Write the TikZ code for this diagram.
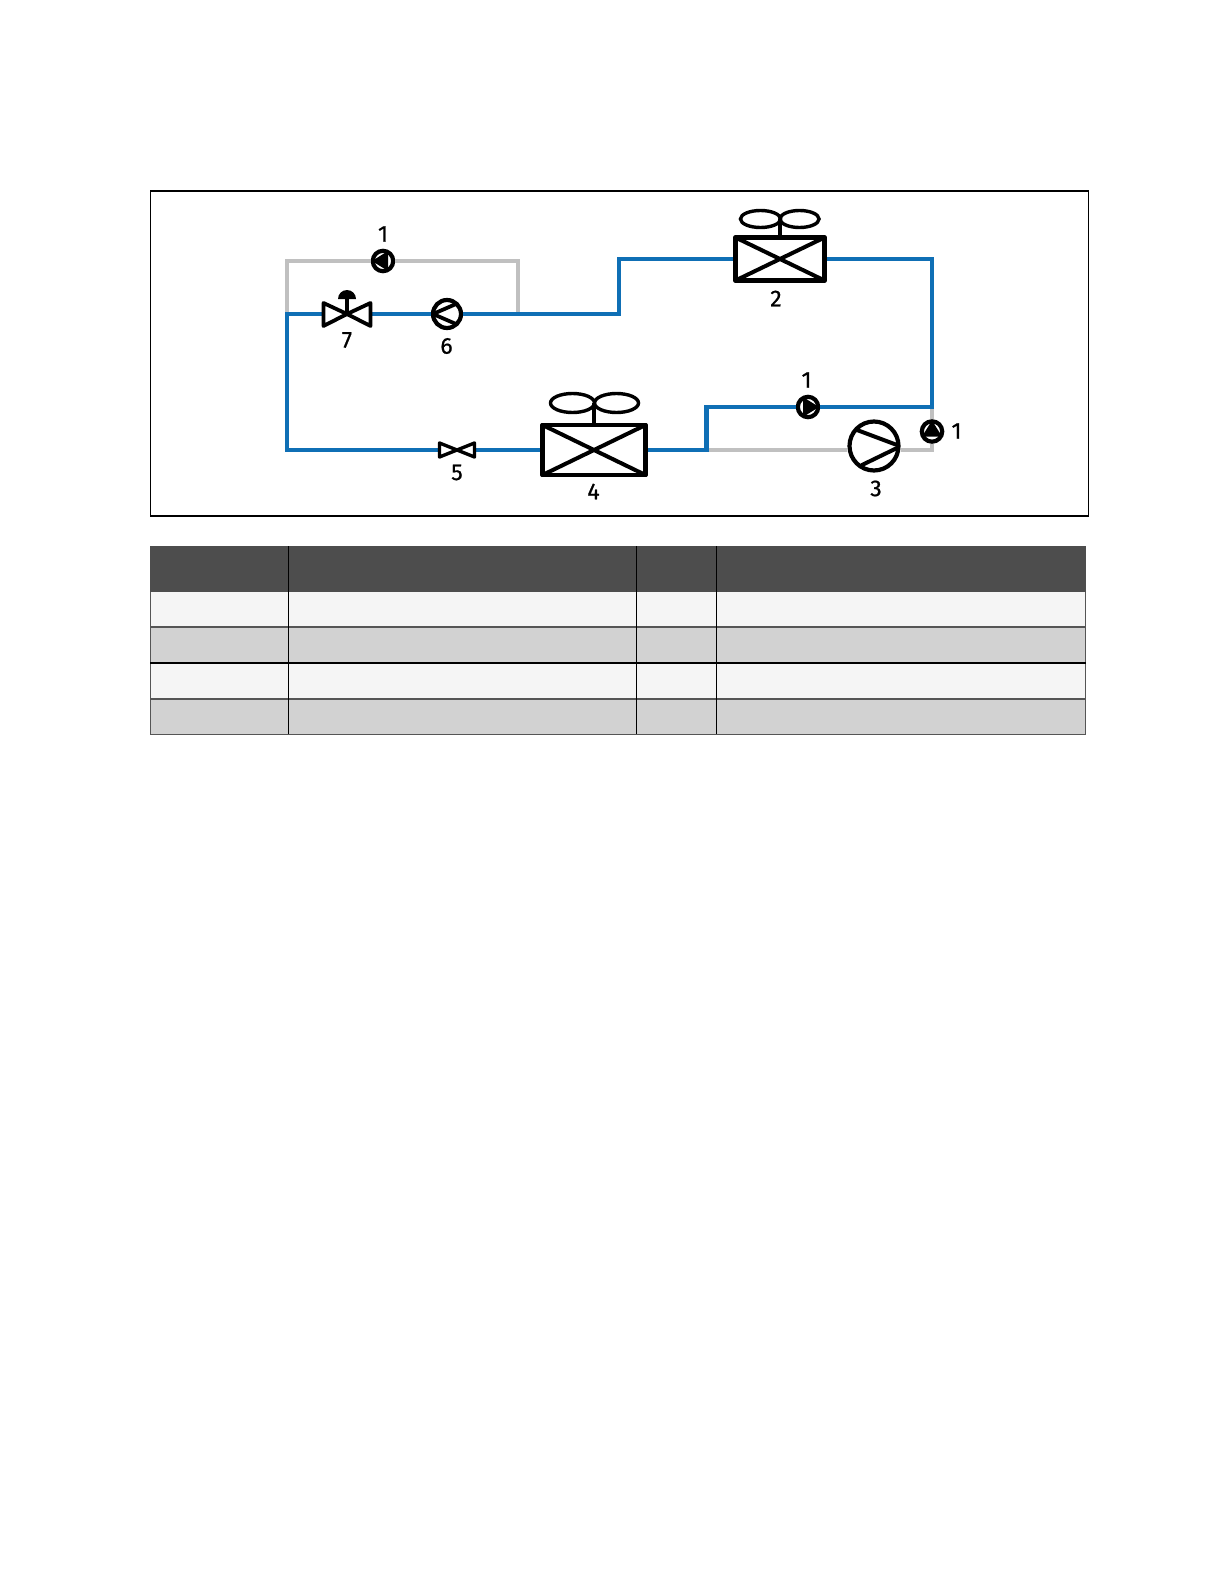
\documentclass[tikz,border=0pt]{standalone}
\usepackage{fontspec}
\newfontfamily\lblfont[RawFeature={embolden=0.7}]{Fira Sans}
\setmainfont{Fira Sans}
\usetikzlibrary{shapes.geometric}
\definecolor{pipeblue}{HTML}{0F6FB5}
\definecolor{pipegray}{HTML}{C0C0C0}
\definecolor{headgray}{HTML}{4D4D4D}
\definecolor{rowlight}{HTML}{F5F5F5}
\definecolor{rowdark}{HTML}{D2D2D2}
\definecolor{ruleg}{HTML}{555555}
\tikzset{
  bluepipe/.style={draw=pipeblue,line width=2.1pt,line join=miter},
  graypipe/.style={draw=pipegray,line width=2.1pt,line join=miter},
  coilbox/.style={draw=black,fill=white,line width=2.4pt,rectangle,inner sep=0pt,outer sep=1.2pt,line join=round},
  coilline/.style={draw=black,line width=2pt,line cap=round},
  fanleaf/.style={draw=black,line width=1.7pt},
  pumpring/.style={circle,draw=black,fill=white,line width=2.1pt,minimum size=10.2pt,inner sep=0pt,outer sep=1.05pt},
  compring/.style={circle,draw=black,fill=white,line width=2.1pt,inner sep=0pt,outer sep=1.05pt},
  slot/.style={rectangle,inner sep=0pt,outer sep=0pt},
  valveline/.style={draw=black,fill=white,line width=1.9pt,line join=round},
  lbl/.style={font=\lblfont\fontsize{11.5}{12}\selectfont,text=black,inner sep=0pt},
}
\begin{document}
\begin{tikzpicture}[x=0.5pt,y=-0.5pt]
\useasboundingbox (0,0) rectangle (1224,1584);
\fill[white] (0,0) rectangle (1224,1584);
% frame
\draw[black,line width=0.7pt] (150.5,191) rectangle (1088.5,516);
% table
\fill[headgray] (150,546) rectangle (1085.5,592);
\fill[rowlight] (150,592) rectangle (1085.5,627);
\fill[rowdark] (150,627) rectangle (1085.5,663);
\fill[rowlight] (150,663) rectangle (1085.5,699);
\fill[rowdark] (150,699) rectangle (1085.5,734);
\draw[ruleg,line width=0.45pt] (150,592) -- (150,734) -- (1085.5,734) -- (1085.5,592);
\draw[ruleg,line width=0.7pt] (150,627) -- (1085.5,627);
\draw[black,line width=0.9pt] (150,663) -- (1085.5,663);
\draw[ruleg,line width=0.7pt] (150,699) -- (1085.5,699);
\foreach \cx in {288,636,716.5} \draw[black,line width=0.5pt] (\cx,546) -- (\cx,734);

% components
\node[coilbox,minimum width=44.5pt,minimum height=21.5pt] (coilA) at (780,259) {};
\node[coilbox,minimum width=51.5pt,minimum height=25pt] (coilB) at (594,450) {};
\node[pumpring] (pumpTop) at (383,261) {};
\node[pumpring] (pumpMid) at (808,407) {};
\node[pumpring] (pumpRight) at (932,431.5) {};
\node[compring,minimum size=14pt] (compSmall) at (447,314) {};
\node[compring,minimum size=24.5pt] (compBig) at (874,446) {};
\node[slot,minimum width=24pt,minimum height=12pt] (valveTop) at (347,314) {};
\node[slot,minimum width=18pt,minimum height=8pt] (valveLow) at (457,450) {};

% corners
\coordinate (gTL) at (287,261);
\coordinate (gTR) at (518,261);
\coordinate (gJoin) at (518,314);
\coordinate (gLeft) at (287,314);
\coordinate (bStepLow) at (619,314);
\coordinate (bStepHigh) at (619,259);
\coordinate (bNE) at (932,259);
\coordinate (bSE) at (932,407);
\coordinate (bMidHigh) at (706.5,407);
\coordinate (bMidLow) at (706.5,450);
\coordinate (bSW) at (287,450);
\coordinate (gSE) at (932,450);

% gray pipes
\draw[graypipe] (gJoin) -- (gTR) -- (pumpTop.east);
\draw[graypipe] (pumpTop.west) -- (gTL) -- (gLeft);
\draw[graypipe] (bSE) -- (pumpRight.north);
\draw[graypipe] (pumpRight.south) -- (gSE) -- (compBig.east |- gSE);
\draw[graypipe] (compBig.west |- gSE) -- (bMidLow);

% blue pipes
\draw[bluepipe] (compSmall.east) -- (bStepLow) -- (bStepHigh) -- (coilA.west);
\draw[bluepipe] (coilA.east) -- (bNE) -- (bSE) -- (pumpMid.east);
\draw[bluepipe] (pumpMid.west) -- (bMidHigh) -- (bMidLow) -- (coilB.east);
\draw[bluepipe] (coilB.west) -- (valveLow.east);
\draw[bluepipe] (valveLow.west) -- (bSW) -- (gLeft) -- (valveTop.west);
\draw[bluepipe] (valveTop.east) -- (compSmall.west);

% coil A details
\draw[coilline] ([shift={(2.4,2.4)}]coilA.north west) -- ([shift={(-2.4,-2.4)}]coilA.south east);
\draw[coilline] ([shift={(2.4,-2.4)}]coilA.south west) -- ([shift={(-2.4,2.4)}]coilA.north east);
\draw[black,line width=1.7pt] (780,219) -- (coilA.north);
\draw[fanleaf] (760.5,219) ellipse [x radius=20,y radius=8.5];
\draw[fanleaf] (799.5,219) ellipse [x radius=19.5,y radius=8.5];
% coil B details
\draw[coilline] ([shift={(2.4,2.4)}]coilB.north west) -- ([shift={(-2.4,-2.4)}]coilB.south east);
\draw[coilline] ([shift={(2.4,-2.4)}]coilB.south west) -- ([shift={(-2.4,2.4)}]coilB.north east);
\draw[black,line width=1.7pt] (594,403) -- (coilB.north);
\draw[fanleaf] (572.5,403) ellipse [x radius=22,y radius=9.5];
\draw[fanleaf] (616.5,403) ellipse [x radius=22,y radius=9.5];

% pumps
\fill[black] (372,261) -- (388,251) -- (388,271) -- cycle;
\fill[black] (819,407) -- (803,397) -- (803,417) -- cycle;
\fill[black] (932,420.5) -- (922,436.5) -- (942,436.5) -- cycle;

% compressors
\draw[black,line width=1.9pt,line cap=round] (433,314) -- (456,304);
\draw[black,line width=1.9pt,line cap=round] (433,314) -- (456,324);
\draw[black,line width=2pt,line cap=round] (857,430) -- (897,445);
\draw[black,line width=2pt,line cap=round] (862,465) -- (897,448);

% valves
\draw[valveline] (347,314) -- (323.5,303) -- (323.5,326) -- cycle;
\draw[valveline] (347,314) -- (370.5,303) -- (370.5,326) -- cycle;
\draw[black,line width=1.6pt] (347,314) -- (347,298);
\fill[black] (338,299) arc[start angle=180,end angle=360,x radius=9,y radius=9] -- cycle;
\draw[valveline,line width=1.7pt] (457,450) -- (439.5,443) -- (439.5,457) -- cycle;
\draw[valveline,line width=1.7pt] (457,450) -- (474.5,443) -- (474.5,457) -- cycle;

% labels
\node[lbl] (lblTop) at (383,234) {1};
\node[lbl] (lblMid) at (806.5,380) {1};
\node[lbl] (lblRight) at (956.5,431) {1};
\node[lbl] (lblCoilA) at (776,298.5) {2};
\node[lbl] (lblComp) at (876,488.5) {3};
\node[lbl] (lblCoilB) at (593.5,491.5) {4};
\node[lbl] (lblFive) at (457,472.5) {5};
\node[lbl] (lblSix) at (446.5,346) {6};
\node[lbl] (lblSeven) at (347,340) {7};
\end{tikzpicture}
\end{document}
